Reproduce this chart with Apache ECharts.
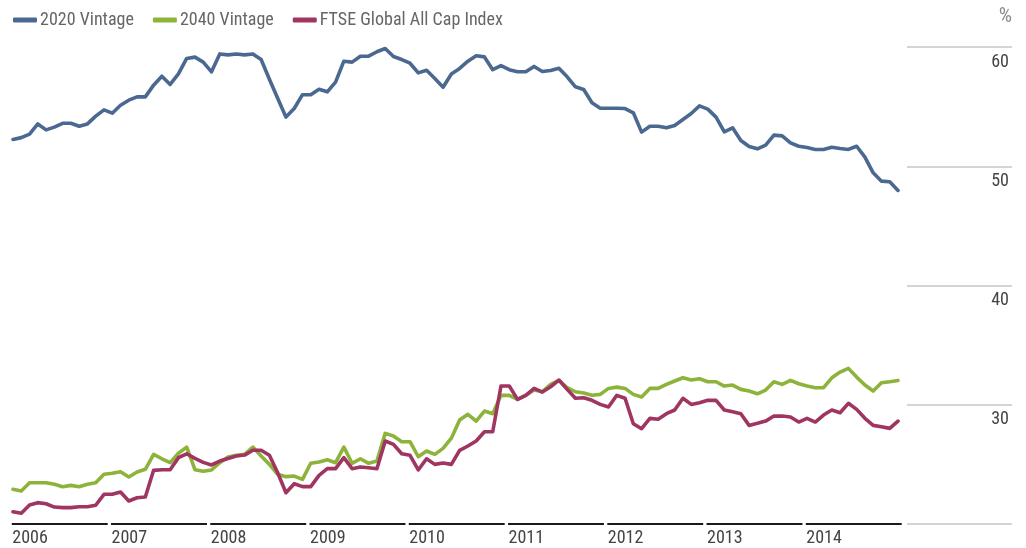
<!DOCTYPE html>
<html>
<head>
<meta charset="utf-8">
<script src="https://cdn.jsdelivr.net/npm/echarts@6/dist/echarts.min.js"></script>
<style>
html,body{margin:0;padding:0;background:#fff;}
#c{width:1026px;height:548px;}
</style>
</head>
<body>
<div id="c"></div>
<script>
// Monthly data, Jan 2006 - Dec 2014
var years = ['2006','2007','2008','2009','2010','2011','2012','2013','2014'];
var yTicks = [20, 30, 40, 50, 60];
var seriesNames = ['2020 Vintage', '2040 Vintage', 'FTSE Global All Cap Index'];

var vintage2020 = [
  52.25,52.4,52.7,53.55,53.05,53.28,53.6,53.6,53.36,53.55,54.2,54.73,
  54.45,55.12,55.54,55.82,55.82,56.8,57.55,56.86,57.74,59.04,59.15,58.73,
  57.92,59.42,59.34,59.42,59.34,59.42,58.95,57.3,55.7,54.12,54.84,56.0,
  56.0,56.46,56.24,57.05,58.81,58.73,59.23,59.23,59.6,59.87,59.2,58.95,
  58.64,57.83,58.05,57.35,56.63,57.74,58.2,58.81,59.26,59.17,58.1,58.44,
  58.1,57.92,57.92,58.37,57.95,58.03,58.22,57.5,56.66,56.44,55.32,54.87,
  54.87,54.87,54.84,54.48,52.86,53.36,53.36,53.22,53.42,53.92,54.42,55.06,
  54.79,54.12,52.89,53.22,52.16,51.66,51.46,51.77,52.61,52.55,51.96,51.68,
  51.57,51.41,51.41,51.6,51.49,51.41,51.68,50.76,49.45,48.75,48.7,47.97
];
var vintage2040 = [
  22.91,22.77,23.46,23.46,23.46,23.33,23.13,23.24,23.13,23.33,23.46,24.17,
  24.25,24.38,23.94,24.36,24.59,25.84,25.47,25.14,25.93,26.45,24.55,24.42,
  24.53,25.14,25.62,25.76,25.84,26.45,25.7,25.0,24.17,23.97,24.02,23.74,
  25.09,25.2,25.39,25.14,26.45,25.09,25.47,25.09,25.28,27.6,27.38,26.9,
  26.9,25.64,26.12,25.84,26.34,27.2,28.72,29.2,28.63,29.47,29.25,30.79,
  30.79,30.45,30.79,31.23,31.09,31.71,32.04,31.43,31.09,30.98,30.79,30.87,
  31.37,31.48,31.37,30.87,30.65,31.37,31.37,31.71,31.99,32.26,32.07,32.18,
  31.93,31.93,31.57,31.65,31.29,31.15,30.92,31.23,31.93,31.71,32.04,31.76,
  31.57,31.43,31.43,32.26,32.74,33.05,32.32,31.65,31.15,31.85,31.93,32.04
];
var ftseGlobal = [
  21.03,20.9,21.59,21.79,21.7,21.42,21.37,21.37,21.45,21.45,21.57,22.49,
  22.49,22.68,21.93,22.2,22.26,24.5,24.55,24.55,25.56,25.89,25.5,25.17,
  24.95,25.28,25.5,25.7,25.78,26.18,26.18,25.76,24.3,22.62,23.38,23.13,
  23.13,24.08,24.64,24.64,25.56,24.64,24.78,24.72,24.64,26.96,26.68,25.89,
  25.76,24.53,25.47,25.0,25.12,25.0,26.18,26.54,26.96,27.74,27.74,31.57,
  31.57,30.45,30.79,31.37,31.06,31.51,32.07,31.29,30.54,30.59,30.37,30.03,
  29.81,30.79,30.54,28.41,27.99,28.86,28.78,29.25,29.56,30.54,30.03,30.17,
  30.37,30.37,29.56,29.41,29.25,28.27,28.44,28.63,29.05,29.05,28.97,28.55,
  28.86,28.55,29.14,29.56,29.33,30.12,29.61,28.86,28.27,28.16,28.02,28.63
];

var months = [];
for (var yi = 0; yi < years.length; yi++) {
  for (var m = 1; m <= 12; m++) months.push(years[yi] + '-' + (m < 10 ? '0' + m : m));
}
var yearStarts = years.map(function (y, i) { return [i * 12, y]; });

var FONT = '"Roboto Condensed", "DejaVu Sans Condensed", sans-serif';
var colors = ['#4b6990', '#8db33b', '#9f3560'];

var chart = echarts.init(document.getElementById('c'), null, {renderer: 'canvas'});

function lineSeries(name, data, color) {
  return {
    name: name, type: 'line', data: data,
    xAxisIndex: 0, yAxisIndex: 0,
    symbol: 'none', smooth: false,
    lineStyle: {color: color, width: 3.6, join: 'round', cap: 'round'},
    itemStyle: {color: color},
    z: 3
  };
}

chart.setOption({
  animation: false,
  textStyle: {fontFamily: FONT},
  color: colors,
  legend: {
    left: 8, top: 6,
    icon: 'roundRect',
    itemWidth: 24, itemHeight: 5,
    itemGap: 19,
    textStyle: {fontFamily: FONT, fontSize: 18, color: '#666', padding: [0, 0, 0, -2]},
    data: seriesNames
  },
  grid: [
    {left: 13, right: 128, top: 47, bottom: 24},
    {left: 907, right: 14, top: 47, bottom: 24}
  ],
  xAxis: [
    {type: 'category', gridIndex: 0, data: months, boundaryGap: false, show: false},
    {type: 'value', gridIndex: 1, min: 0, max: 1, show: false}
  ],
  yAxis: [
    {type: 'value', gridIndex: 0, min: yTicks[0], max: yTicks[yTicks.length - 1], show: false},
    {
      type: 'value', gridIndex: 1, position: 'right',
      min: yTicks[0], max: yTicks[yTicks.length - 1], interval: 10,
      axisLine: {show: false, onZero: false}, axisTick: {show: false},
      splitLine: {show: true, lineStyle: {color: '#c6c6c6', width: 1.5}},
      axisLabel: {
        inside: true, margin: 3, color: '#444', fontSize: 18, fontFamily: FONT,
        verticalAlign: 'top', padding: [6, 0, 0, 0],
        formatter: function (v) { return v === yTicks[0] ? '' : String(v); }
      },
      name: '%', nameLocation: 'end', nameGap: 20,
      nameTextStyle: {color: '#8a8a8a', fontSize: 21, fontFamily: FONT, align: 'right'}
    }
  ],
  series: [
    lineSeries(seriesNames[0], vintage2020, colors[0]),
    lineSeries(seriesNames[1], vintage2040, colors[1]),
    lineSeries(seriesNames[2], ftseGlobal, colors[2]),
    {
      type: 'custom', xAxisIndex: 0, yAxisIndex: 0,
      data: yearStarts, clip: false, silent: true, z: 5,
      renderItem: function (params, api) {
        var s = api.value(0);
        var p0 = api.coord([s, yTicks[0]]);
        var p1 = api.coord([s + 11, yTicks[0]]);
        var step = (p1[0] - p0[0]) / 11;
        var x1 = p0[0] - 0.15 * step;
        var x2 = p0[0] + 11.45 * step;
        return {
          type: 'group',
          children: [
            {type: 'line', shape: {x1: x1, y1: p0[1], x2: x2, y2: p0[1]},
             style: {stroke: '#1a1a1a', lineWidth: 2}},
            {type: 'text', x: x1 + 0.5, y: p0[1] + 14,
             style: {text: api.value(1), fill: '#444', font: '18px ' + FONT,
                     textAlign: 'left', textVerticalAlign: 'middle'}}
          ]
        };
      },
      encode: {x: 0}
    }
  ]
});
</script>
</body>
</html>
